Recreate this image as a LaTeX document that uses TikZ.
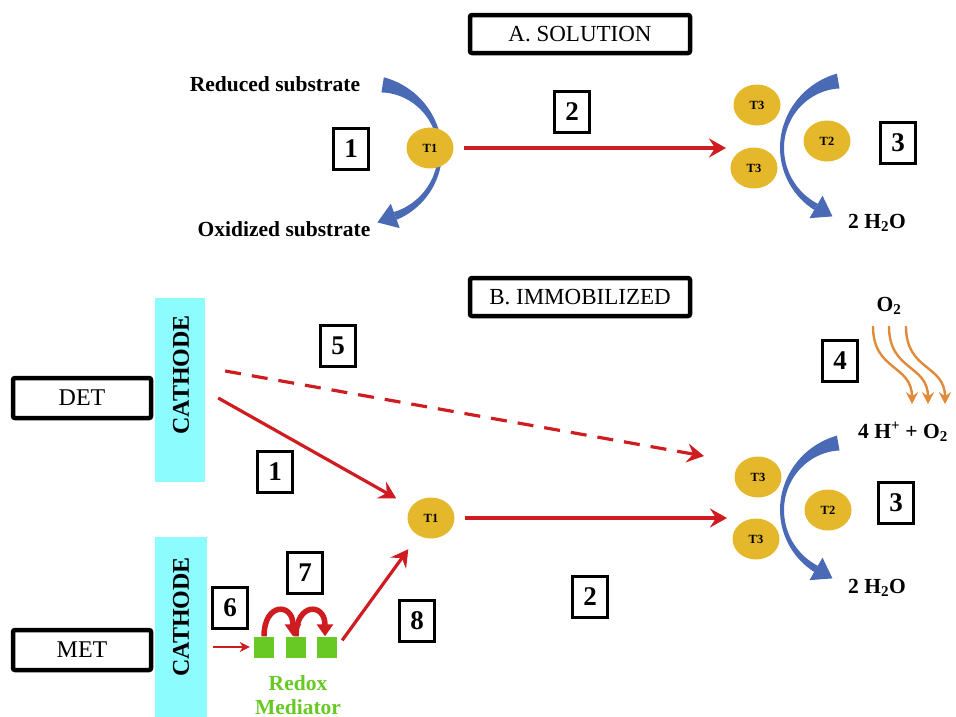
\documentclass[tikz,border=0pt]{standalone}
\usepackage{fontspec}
\setmainfont{Liberation Serif}
\usetikzlibrary{shapes.geometric,arrows.meta}
\definecolor{enzgold}{RGB}{229,183,43}
\definecolor{cathcyan}{RGB}{140,252,255}
\definecolor{etred}{RGB}{206,28,32}
\definecolor{medgreen}{RGB}{104,200,36}
\definecolor{swblue}{RGB}{74,106,182}
\definecolor{o2orange}{RGB}{224,138,58}
\begin{document}
\begin{tikzpicture}[x=1pt, y=-1pt,
    header/.style={draw, line width=4.5pt, rounded corners=2pt, minimum width=220pt,
                   minimum height=38pt, inner sep=0pt, font=\fontsize{23}{23}\selectfont},
    method/.style={header, minimum width=138pt, minimum height=40pt, font=\fontsize{24}{24}\selectfont},
    numbox/.style={draw, line width=2.4pt, minimum width=35pt, minimum height=41pt,
                   inner sep=0pt, font=\bfseries\fontsize{27}{27}\selectfont},
    enzyme/.style={ellipse, fill=enzgold, minimum width=47pt, minimum height=41pt,
                   inner sep=0pt, font=\bfseries\fontsize{12.5}{12.5}\selectfont},
    cathode/.style={fill=cathcyan, minimum width=50pt, inner sep=0pt},
    cathlabel/.style={rotate=90, font=\bfseries\fontsize{24}{24}\selectfont},
    species/.style={font=\bfseries\fontsize{21.5}{21.5}\selectfont},
    mediator/.style={fill=medgreen, minimum width=20pt, minimum height=21pt, inner sep=0pt},
    etrans/.style={-{Stealth[length=17pt,width=19pt,inset=6pt]}, line width=3.2pt, draw=etred},
    edash/.style={etrans, dash pattern=on 16pt off 11pt},
    hop/.style={-{Triangle[length=12pt,width=16pt]}, line width=5.5pt, draw=etred},
    swoosh/.style={fill=swblue},
    o2flow/.style={-{Stealth[length=12pt,width=12pt,inset=4pt]}, line width=2.4pt, draw=o2orange},
  ]
  \useasboundingbox (0,0) rectangle (956,716);

  % blue swooshes (drawn first, enzymes sit on top)
  \begin{scope}[shift={(372,152)}]
    \fill[swoosh] plot[domain=-81:70, samples=40] (\x:{70+(\x<0 ? 7 : 3.5)*(\x/90)^2})
      -- plot[domain=70:-81, samples=40] (\x:{66-(\x<0 ? 7 : 3.5)*(\x/90)^2}) -- cycle;
    \fill[swoosh] (70:81) -- (70:55) -- ([shift={(160:19)}]70:68) -- cycle;
  \end{scope}
  \foreach \cy in {148,510} {
    \begin{scope}[shift={(850,\cy)}, xscale=-1]
      \fill[swoosh] plot[domain=-80:60, samples=40] (\x:{70+(\x<0 ? 7 : 3.5)*(\x/90)^2})
        -- plot[domain=60:-80, samples=40] (\x:{66-(\x<0 ? 7 : 3.5)*(\x/90)^2}) -- cycle;
      \fill[swoosh] (60:81) -- (60:55) -- ([shift={(150:19)}]60:68) -- cycle;
    \end{scope}
  }

  % A. solution
  \node[header] (solA) at (580,34) {A. SOLUTION};
  \node[species] (redsub) at (275,84) {Reduced substrate};
  \node[species] (oxsub) at (284,229) {Oxidized substrate};
  \node[enzyme] (t1a) at (430,148) {T1};
  \node[enzyme] (t3a) at (757,105) {T3};
  \node[enzyme] (t3a2) at (754,168) {T3};
  \node[enzyme] (t2a) at (827,141) {T2};
  \node[species] (h2oa) at (877,223) {2 H\textsubscript{2}O};
  \node[numbox] (n1a) at (351,149) {1};
  \node[numbox] (n2a) at (572,112) {2};
  \node[numbox] (n3a) at (898,143) {3};
  \coordinate (t3ina) at (726,148);
  \draw[etrans, shorten <=10pt] (t1a.east) -- (t3ina);

  % B. immobilized
  \node[header] (solB) at (580,297) {B. IMMOBILIZED};
  \node[method] (det) at (82,398) {DET};
  \node[method] (met) at (82,650) {MET};
  \node[cathode, minimum height=184pt] (cathA) at (180,390) {};
  \node[cathlabel] (cathAlbl) at (181,375) {CATHODE};
  \node[cathode, minimum height=180pt, minimum width=52pt] (cathB) at (181,627) {};
  \node[cathlabel] (cathBlbl) at (181,617) {CATHODE};
  \node[enzyme] (t1b) at (431,518) {T1};
  \node[enzyme] (t3b) at (758,477) {T3};
  \node[enzyme] (t3b2) at (756,539) {T3};
  \node[enzyme] (t2b) at (828,510) {T2};
  \node[species] (o2) at (889,306) {O\textsubscript{2}};
  \node[species] (hpo) at (903,432) {4 H\textsuperscript{+} + O\textsubscript{2}};
  \node[species] (h2ob) at (877,588) {2 H\textsubscript{2}O};
  \node[mediator] (m1) at (264,647) {};
  \node[mediator] (m2) at (296,647) {};
  \node[mediator] (m3) at (327,647) {};
  \node[font=\bfseries\fontsize{21.5}{24}\selectfont, text=medgreen, align=center]
    (medlbl) at (298,695) {Redox\\Mediator};
  \node[numbox] (n5) at (338,346) {5};
  \node[numbox] (n4) at (840,361) {4};
  \node[numbox] (n1b) at (275,472) {1};
  \node[numbox] (n3b) at (896,503) {3};
  \node[numbox] (n2b) at (590,597) {2};
  \node[numbox] (n6) at (230,608) {6};
  \node[numbox] (n7) at (305,573) {7};
  \node[numbox] (n8) at (417,621) {8};

  \coordinate (t3inb) at (727,518);
  \coordinate (t3dash) at (704,456);
  \draw[etrans, shorten <=10pt] (t1b.east) -- (t3inb);
  \draw[edash] ([xshift=20pt,yshift=19pt]cathA.east) -- (t3dash);
  \draw[etrans, shorten >=17pt] ([xshift=13pt,yshift=-8pt]cathA.east) -- (t1b);
  \draw[etrans, shorten >=17pt] ([xshift=5pt,yshift=-4pt]m3.north east) -- (t1b);
  \draw[-{Stealth[length=10pt,width=10pt,inset=3pt]}, line width=1.8pt, etred,
        shorten <=6pt, shorten >=4pt] (cathB.east |- m1.west) -- (m1.west);
  \draw[hop] (m1.north) .. controls +(0,-34) and +(0,-34) .. ([xshift=-3pt]m2.north);
  \draw[hop] (m2.north) .. controls +(0,-34) and +(0,-34) .. ([xshift=-2pt]m3.north);

  % O2 reaching T2/T3
  \foreach \dx in {-16,0,17}
    \draw[o2flow] ([xshift=\dx pt, yshift=-8pt]o2.south) .. controls +(0,45) and +(0,-40) .. ++(39,78);
\end{tikzpicture}
\end{document}
